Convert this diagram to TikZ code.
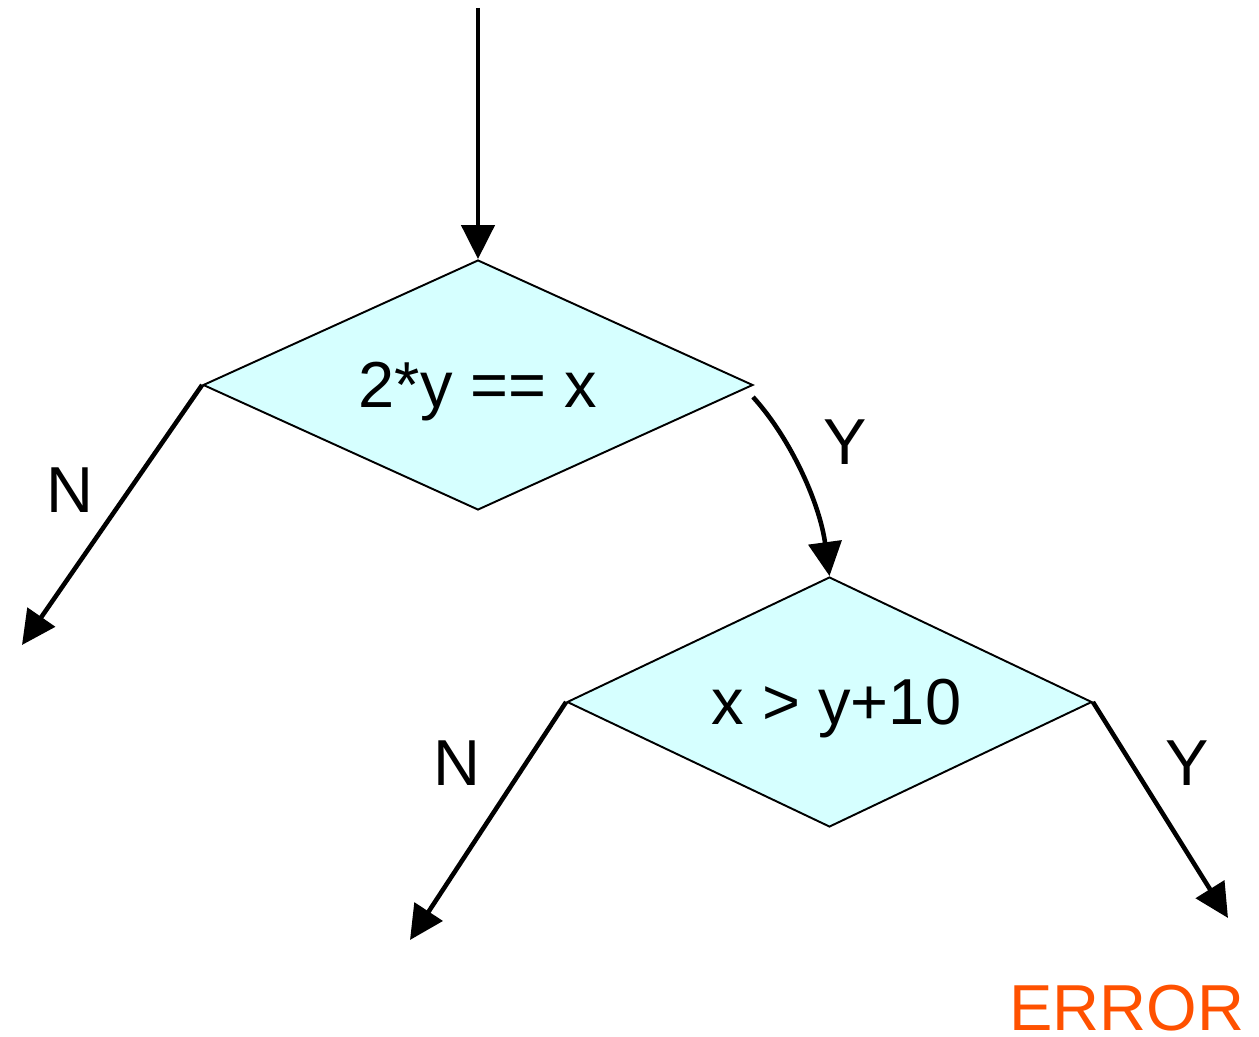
\documentclass[tikz,border=0pt]{standalone}
\usepackage{fontspec}
\setmainfont{Liberation Sans}
\usetikzlibrary{shapes.geometric,arrows.meta}
\definecolor{testfill}{RGB}{214,255,255}
\definecolor{errorred}{RGB}{255,81,0}
\tikzset{
	test/.style={diamond, draw, line width=1.1pt, fill=testfill, aspect=2.2,
		minimum width=#1, minimum height=5cm, inner sep=0pt,
		text height=1.19cm, text depth=0.27cm},
	arr/.style={line width=2.6pt, -{Triangle[length=0.68cm, width=0.66cm]}},
	lab/.style={inner sep=0pt}
}
\begin{document}
\begin{tikzpicture}[
	x=0.02cm,
	y=-0.02cm,
	font=\fontsize{37}{42}\selectfont
	]
	\useasboundingbox (0,0) rectangle (1259,1037);

	% --- first test ---
	\coordinate (in) at (478,8);
	\node[test=11cm] (d1) at (478,385) {2*y == x};
	\draw[arr] (in) -- (d1.north);

	% false branch of the first test
	\coordinate (n1end) at (22,645);
	\draw[arr] (d1.west) -- (n1end);
	\node[lab] (n1) at (70,490) {N};

	% --- second test, reached on Y ---
	\node[test=10.5cm] (d2) at (829.5,702) {\hspace*{8pt}x > y+10};
	\coordinate (y1start) at (753,397);
	\draw[arr] (y1start) .. controls (792,440) and (820,505) .. (d2.north);
	\node[lab] (y1) at (845,442) {Y};

	% branches of the second test
	\coordinate (n2end) at (410,940);
	\draw[arr] (d2.west) -- (n2end);
	\node[lab] (n2) at (457,763) {N};

	\coordinate (y2end) at (1228,918);
	\draw[arr] (d2.east) -- (y2end);
	\node[lab] (y2) at (1187,763) {Y};

	\node[lab, text=errorred] (err) at (1127,1008) {ERROR};
\end{tikzpicture}
\end{document}
